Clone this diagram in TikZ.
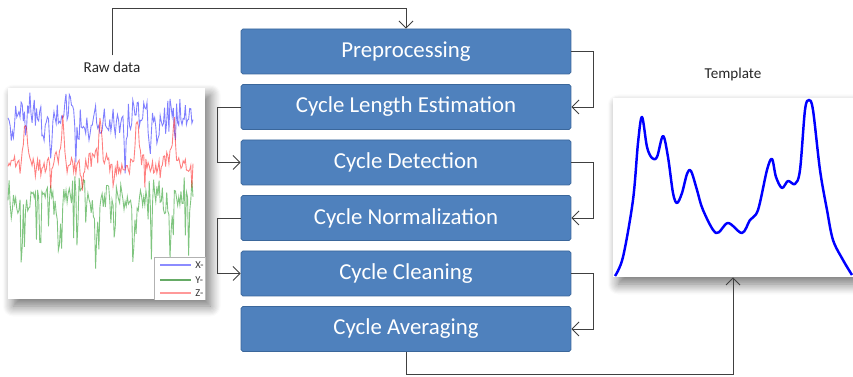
\documentclass[tikz,border=0pt]{standalone}
\usepackage{fontspec}
\setmainfont{Carlito}
\usepackage{xcolor}
\usetikzlibrary{arrows.meta, shadows.blur}

\definecolor{stagefill}{HTML}{4F81BD}
\definecolor{stageline}{HTML}{3B679B}
\definecolor{linkgray}{HTML}{404040}

\begin{document}
\begin{tikzpicture}[x=0.02cm, y=-0.02cm, >={Straight Barb[length=4pt, width=8pt]}, font=\fontsize{13}{15}\selectfont]
		\tikzstyle{stage} = [draw=stageline, fill=stagefill, text=white, rounded corners=1pt, minimum width=6.6cm, minimum height=0.9cm, inner sep=0pt]
		\tikzstyle{panel} = [fill=white, inner sep=0pt, blur shadow={shadow xshift=3pt, shadow yshift=-4pt, shadow blur radius=6pt, shadow opacity=55, shadow blur steps=10}]
		\tikzstyle{caption} = [font=\fontsize{8.6}{10}\selectfont, text=black!85]
		\tikzstyle{legtext} = [font=\fontsize{6}{7}\selectfont, anchor=west, inner sep=0pt, text=black!80]
		\tikzstyle{signal} = [line width=0.5pt, opacity=0.5]
		\tikzstyle{arrow} = [->, draw=linkgray, line width=0.5pt]
		
		\useasboundingbox (0,0) rectangle (853,377);
		
		\node[panel, minimum width=3.94cm, minimum height=4.22cm] at (106.5, 193.5) (raw) {};
		\node[panel, minimum width=4.8cm, minimum height=3.58cm]  at (733, 187.5)   (tmpl) {};
		\node[caption] at (112, 67) (lraw)  {Raw data};
		\node[caption] at (733, 74) (ltmpl) {Template};
		
		\node[stage] at (406, 51.5)  (q0) {Preprocessing};
		\node[stage] at (406, 107)   (q1) {Cycle Length Estimation};
		\node[stage] at (406, 162.5) (q2) {Cycle Detection};
		\node[stage] at (406, 218)   (q3) {Cycle Normalization};
		\node[stage] at (406, 273.5) (q4) {Cycle Cleaning};
		\node[stage] at (406, 329)   (q5) {Cycle Averaging};
		
		% raw signals
		\begin{scope}
			\clip (raw.north west) rectangle (raw.south east);
			\pgfmathsetseed{23}
			\draw[signal, blue]  plot[domain=8:193, samples=170] (\x, {118 + 9*sin(9.7*\x) + 17*rand + 38*pow(max(0,sin(14.5*\x+70)),24)});
			\draw[signal, green!55!black] plot[domain=8:193, samples=170] (\x, {196 - 9*sin(9.7*\x+60) + 13*rand + 62*pow(max(0,sin(19.4*\x+30)),14) + 45*pow(max(0,sin(29*\x+110)),30)});
			\draw[signal, red]   plot[domain=8:193, samples=170] (\x, {162 + 6*sin(9.7*\x+40) + 8*rand - 35*pow(max(0,sin(9.7*\x+200)),16) + 20*pow(max(0,sin(23*\x)),30)});
			\draw[draw=black!30, fill=white] (154, 257) rectangle (215, 305);
			\draw[blue!45, line width=0.8pt]  (160, 265) -- (191, 265);
			\draw[green!45!black!60, line width=0.8pt] (160, 280) -- (191, 280);
			\draw[red!40, line width=0.8pt]   (160, 293) -- (191, 293);
			\node[legtext] at (195, 265) (lx) {X-};
			\node[legtext] at (195, 280) (ly) {Y-};
			\node[legtext] at (195, 293) (lz) {Z-};
		\end{scope}
		
		% template curve
		\draw[blue, line width=1.4pt, line join=round] plot[smooth, tension=0.55] coordinates {
			(615,276) (623,257) (633,200) (638,143) (642,117) (647,147) (652,158) (657,157)
			(663,136) (668,157) (673,193) (677,203) (682,193) (687,174) (691,171) (697,190)
			(703,210) (716,233) (728,223) (742,233) (750,220) (758,210) (767,170) (772,159)
			(776,177) (782,188) (788,181) (795,184) (800,170) (805,110) (809,100) (813,110)
			(820,170) (827,210) (833,240) (843,260) (852,275)};
		
		\coordinate (c0) at (406, 8);
		\coordinate (c1) at (406, 374);
		
		\draw [arrow] (lraw.north) |- (c0) -- (q0.north);
		\draw [arrow] (q0.east) -- ++(22,0) |- (q1.east);
		\draw [arrow] (q1.west) -- ++(-23,0) |- (q2.west);
		\draw [arrow] (q2.east) -- ++(22,0) |- (q3.east);
		\draw [arrow] (q3.west) -- ++(-23,0) |- (q4.west);
		\draw [arrow] (q4.east) -- ++(22,0) |- (q5.east);
		\draw [arrow] (q5.south) -- (c1) -| (tmpl.south);
		
	\end{tikzpicture}
\end{document}
